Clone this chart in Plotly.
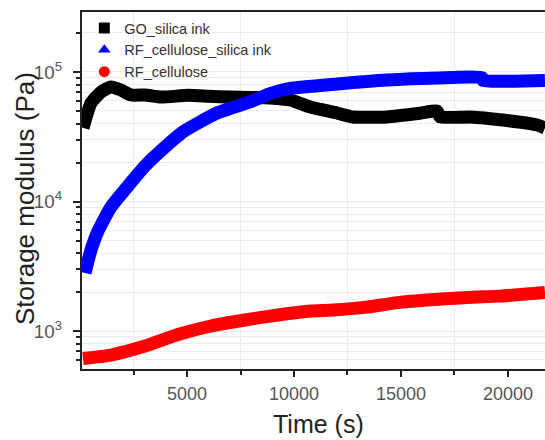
import plotly.graph_objects as go

# Storage modulus vs. time for three inks
go_silica_t = [140, 514, 981, 1449, 1916, 2383, 3037, 3785, 5047, 6000, 7000, 8000, 8879,
               9813, 10748, 12009, 12757, 14346, 15888, 16682, 16822, 18224, 19766, 21355, 21729]
go_silica_g = [37000, 57500, 70000, 76600, 72500, 66400, 66500, 64000, 66000, 65000, 64000,
               63500, 63000, 60800, 53700, 48200, 44900, 45000, 48000, 50000, 45000, 45000,
               42600, 39000, 37000]

rf_cs_t = [234, 514, 841, 1449, 2243, 3037, 3785, 4813, 6402, 7944, 8879, 9813, 12009,
           14346, 16682, 18785, 18832, 21729]
rf_cs_g = [2805, 4220, 5916, 9080, 13180, 18800, 24700, 34500, 48200, 58700, 68000, 74600,
           80800, 86700, 89900, 90600, 86000, 86000]

rf_c_t = [140, 1449, 3037, 4579, 6121, 7710, 9252, 10794, 11822, 13411, 14953, 18084,
          19626, 21729]
rf_c_g = [614, 653, 766, 940, 1094, 1217, 1330, 1427, 1452, 1530, 1665, 1814, 1860, 1983]

names = ["GO_silica ink", "RF_cellulose_silica ink", "RF_cellulose"]
colors = ["#000000", "#0000ff", "#ff0000"]
symbols = ["square", "triangle-up", "circle"]
series = [(go_silica_t, go_silica_g), (rf_cs_t, rf_cs_g), (rf_c_t, rf_c_g)]

fig = go.Figure()

for (t, g), col in zip(series, colors):
    fig.add_trace(go.Scatter(x=t, y=g, mode="lines", showlegend=False,
                             line=dict(color=col, width=13, shape="spline", smoothing=0.5),
                             hoverinfo="skip"))

# legend entries with marker symbols
for name, col, sym in zip(names, colors, symbols):
    fig.add_trace(go.Scatter(x=[None], y=[None], mode="markers", name=name,
                             marker=dict(symbol=sym, color=col, size=11)))

axis_font = "Liberation Sans, Arial, sans-serif"

fig.update_layout(
    width=545, height=440,
    margin=dict(l=82, r=0, t=12, b=71),
    paper_bgcolor="white", plot_bgcolor="white",
    font=dict(family=axis_font, color="#333"),
    legend=dict(x=0.005, y=1.0, xanchor="left", yanchor="top",
                bgcolor="rgba(0,0,0,0)", font=dict(size=14.5, color="#333"),
                tracegroupgap=0, itemwidth=30),
    xaxis=dict(range=[93, 21730], showline=True, linecolor="#222", linewidth=2,
               mirror=True, ticks="outside", ticklen=6, tickwidth=2, tickcolor="#222",
               tick0=0, dtick=5000, tickformat="d", showgrid=False, zeroline=False,
               tickfont=dict(size=18, color="#555"), ticklabelstandoff=1,
               minor=dict(ticks="outside", ticklen=4, tickwidth=2, tickcolor="#222",
                          dtick=2500, tick0=0, showgrid=True, gridcolor="#ececec",
                          gridwidth=1)),
    yaxis=dict(type="log", range=[2.707, 5.463], showline=True, linecolor="#222",
               linewidth=2, mirror=False, ticks="outside", ticklen=7, tickwidth=2,
               tickcolor="#222", dtick=1, exponentformat="power", showexponent="all",
               showgrid=True, gridcolor="#ececec", zeroline=False,
               tickfont=dict(size=15, color="#555"), ticklabelstandoff=8,
               minor=dict(ticks="outside", ticklen=4, tickwidth=1.5, tickcolor="#222",
                          dtick="D1", showgrid=True, gridcolor="#ececec", gridwidth=1)),
    annotations=[
        dict(text="Time (s)", xref="paper", yref="paper", x=(318 - 82) / 463, y=-55 / 357,
             xanchor="center", yanchor="middle", showarrow=False,
             font=dict(size=25, color="#222")),
        dict(text="Storage modulus (Pa)", xref="paper", yref="paper", x=-57 / 463,
             y=(369 - 199) / 357, xanchor="center", yanchor="middle", textangle=-90,
             showarrow=False, font=dict(size=26, color="#222")),
    ],
)

fig.write_html("out.html")
